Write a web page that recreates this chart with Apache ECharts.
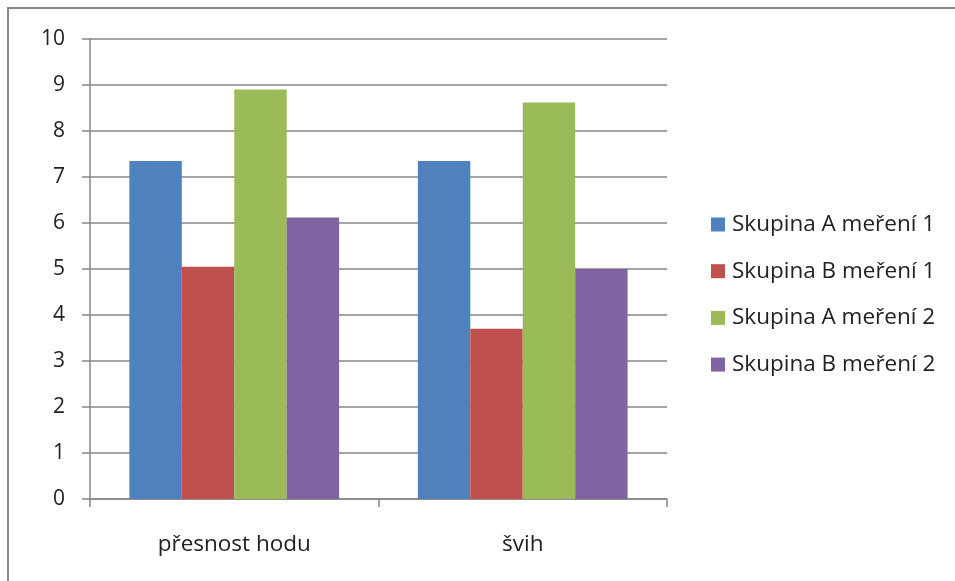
<!DOCTYPE html>
<html>
<head>
<meta charset="utf-8">
<script src="https://cdn.jsdelivr.net/npm/echarts@6/dist/echarts.min.js"></script>
<style>
html,body{margin:0;padding:0;background:#fff;}
#chart{width:955px;height:581px;}
</style>
</head>
<body>
<div id="chart"></div>
<script>
// kategorie a hodnoty
var categories = ['přesnost hodu', 'švih'];
var seriesNames = ['Skupina A meření 1', 'Skupina B meření 1', 'Skupina A meření 2', 'Skupina B meření 2'];
var groupA1 = [7.35, 7.35];
var groupB1 = [5.05, 3.7];
var groupA2 = [8.9, 8.62];
var groupB2 = [6.12, 5.0];
var colors = ['#4F81BD', '#C0504D', '#9BBB59', '#8064A2'];

var e = echarts.init(document.getElementById('chart'));
var font = 'Open Sans';
var dataList = [groupA1, groupB1, groupA2, groupB2];
var series = [];
for (var i = 0; i < dataList.length; i++) {
    series.push({
        name: seriesNames[i],
        type: 'bar',
        barGap: '0%',
        barCategoryGap: '27.3%',
        data: dataList[i]
    });
}
var option = {
    color: colors,
    animation: false,
    graphic: [{
        type: 'rect',
        shape: {x: 8, y: 8, width: 1000, height: 1000},
        style: {fill: 'none', stroke: '#898989', lineWidth: 2}
    }],
    legend: {
        orient: 'vertical',
        left: 706,
        top: 208,
        itemWidth: 14,
        itemHeight: 14,
        itemGap: 23.7,
        icon: 'rect',
        data: seriesNames,
        textStyle: {fontFamily: font, fontSize: 22.5, color: '#222', padding: [0, 0, 0, 2]}
    },
    grid: {left: 90, right: 288, top: 39, bottom: 82, containLabel: false},
    xAxis: {
        type: 'category',
        data: categories,
        axisLine: {lineStyle: {color: '#868686', width: 1.5}},
        axisTick: {show: true, length: 8, lineStyle: {color: '#868686', width: 1.5}},
        axisLabel: {fontFamily: font, fontSize: 22.5, color: '#222', margin: 34}
    },
    yAxis: {
        type: 'value',
        min: 0,
        max: 10,
        interval: 1,
        axisLine: {show: true, lineStyle: {color: '#868686', width: 1.5}},
        axisTick: {show: true, length: 8, lineStyle: {color: '#868686', width: 1.5}},
        splitLine: {show: true, lineStyle: {color: '#868686', width: 1.5}},
        axisLabel: {fontFamily: font, fontSize: 21, color: '#222', margin: 25}
    },
    series: series
};
e.setOption(option);
</script>
</body>
</html>
